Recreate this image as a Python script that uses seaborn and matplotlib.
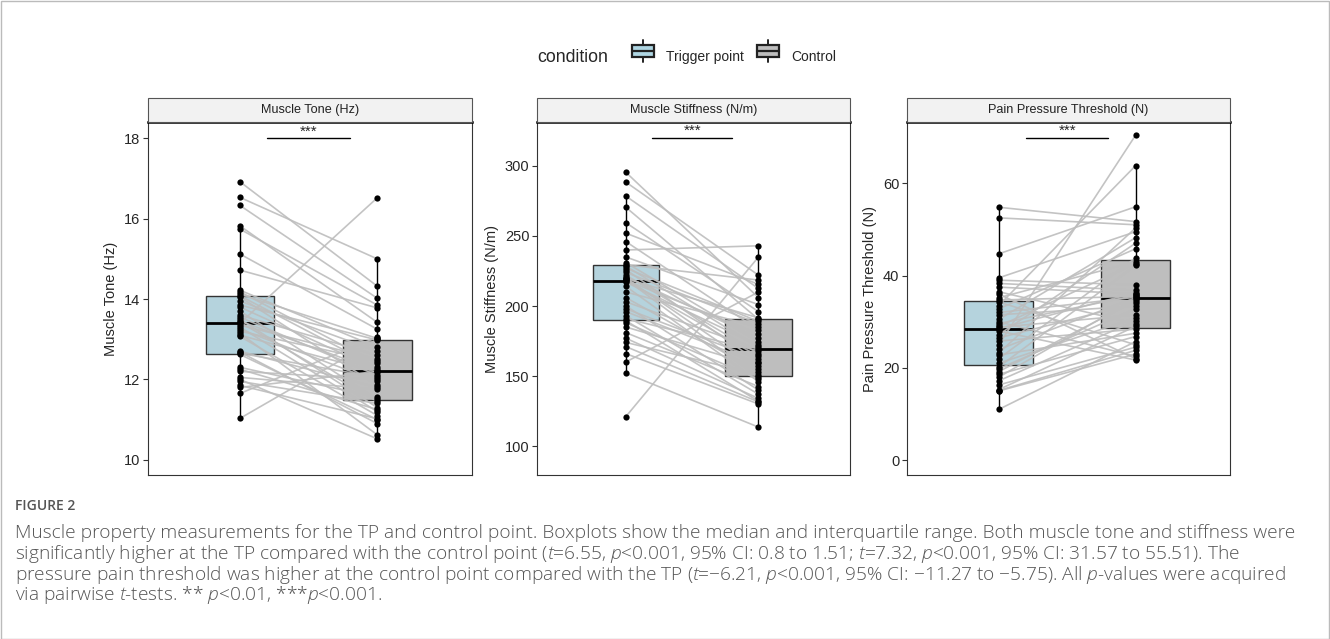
import matplotlib
matplotlib.use("Agg")
import matplotlib.pyplot as plt
import seaborn as sns
import pandas as pd
from matplotlib.patches import Rectangle, Patch
from matplotlib.lines import Line2D
from matplotlib.legend_handler import HandlerBase

# ---- data (paired: index i in *_tp matches index i in *_ctrl) ----
conditions = ["Trigger point", "Control"]

tone_tp = [16.92, 16.53, 16.33, 15.82, 15.74, 15.12, 14.72, 14.22, 14.18, 14.12, 14.08,
           14.05, 13.95, 13.85, 13.8, 13.7, 13.6, 13.55, 13.5, 13.45, 13.42, 13.4,
           13.35, 13.3, 13.25, 13.2, 13.15, 13.1, 13.07, 12.7, 12.68, 12.65, 12.62,
           12.3, 12.25, 12.2, 12.05, 12.0, 11.95, 11.85, 11.8, 11.65, 11.03]
tone_ctrl = [14.32, 15.0, 14.02, 13.42, 13.85, 13.25, 13.78, 12.8, 12.4, 13.02, 12.3,
             11.85, 12.7, 12.98, 12.25, 11.5, 12.6, 12.1, 11.3, 12.22, 11.45, 16.52,
             12.5, 11.2, 11.95, 12.45, 10.62, 12.18, 11.1, 11.8, 10.9, 12.05, 11.0,
             11.55, 11.25, 12.0, 11.75, 10.52, 11.4, 11.02, 12.2, 13.05, 13.0]

stiff_tp = [295.5, 288.5, 278.5, 270.5, 259.5, 252, 246, 240, 235, 231, 229.5,
            228.5, 227, 226, 224, 222, 221, 220, 219.5, 219, 218.5, 218,
            217, 214, 210, 206, 203, 200, 198, 196, 193, 191, 189.5,
            188, 185, 181, 177, 174, 171, 166, 160, 152, 121]
stiff_ctrl = [206, 222, 212.5, 190.5, 196, 215.5, 183, 243, 201, 174.5, 218.5,
              170.5, 189, 160, 187.5, 166, 177, 155, 191.5, 149, 180, 164,
              172, 146, 185, 153, 169, 140, 162, 159, 137, 168, 132,
              148, 157, 142.5, 134, 151, 131.5, 130, 210, 113.5, 235]

ppt_tp = [54.8, 52.5, 44.7, 39.5, 39.0, 38.3, 37.5, 36.5, 36.0, 35.2, 34.7,
          34.3, 33.5, 32.8, 32.0, 31.5, 30.5, 30.0, 29.6, 29.0, 28.8, 28.5,
          28.0, 27.2, 26.5, 25.8, 25.0, 24.0, 23.2, 22.8, 22.0, 21.0, 20.2,
          19.8, 19.2, 18.6, 18.0, 17.2, 16.3, 15.3, 15.1, 15.0, 11.0]
ppt_ctrl = [51.7, 51.0, 54.9, 49.5, 38.0, 36.8, 36.0, 29.6, 22.0, 43.0, 35.5,
            25.0, 63.8, 45.8, 35.3, 33.4, 48.2, 22.5, 35.7, 42.6, 31.5, 36.3,
            21.7, 47.0, 34.0, 28.4, 70.4, 35.2, 50.3, 27.5, 43.8, 30.8, 42.2,
            32.8, 34.5, 26.8, 35.0, 30.2, 24.5, 29.0, 23.8, 23.0, 25.7]

panel_titles = ["Muscle Tone (Hz)", "Muscle Stiffness (N/m)", "Pain Pressure Threshold (N)"]
y_ticks = [[10, 12, 14, 16, 18], [100, 150, 200, 250, 300], [0, 20, 40, 60]]
y_limits = [(9.62, 18.40), (79.3, 331.2), (-3.2, 73.2)]
sig_heights = [18.0, 319.8, 69.75]

palette = {"Trigger point": "#afd6e3", "Control": "#bebebe"}

caption_lines = [
    "Muscle property measurements for the TP and control point. Boxplots show the median and interquartile range. Both muscle tone and stiffness were",
    "significantly higher at the TP compared with the control point ($t$=6.55, $p$<0.001, 95% CI: 0.8 to 1.51; $t$=7.32, $p$<0.001, 95% CI: 31.57 to 55.51). The",
    "pressure pain threshold was higher at the control point compared with the TP ($t$=\u22126.21, $p$<0.001, 95% CI: \u221211.27 to \u22125.75). All $p$-values were acquired",
    "via pairwise $t$-tests. ** $p$<0.01, ***$p$<0.001.",
]


def long_table(tp, ctrl):
    n = len(tp)
    df = pd.DataFrame({
        "subject": list(range(n)) * 2,
        "condition": [conditions[0]] * n + [conditions[1]] * n,
        "value": tp + ctrl,
    })
    df["pos"] = df["condition"].map({c: i for i, c in enumerate(conditions)})
    return df


class BoxHandler(HandlerBase):
    # boxplot-like legend key (box + median + whisker stubs)
    def create_artists(self, legend, orig_handle, xdescent, ydescent,
                       width, height, fontsize, trans):
        box = Rectangle((0, 0.2 * height), width, 0.6 * height,
                        facecolor=orig_handle.get_facecolor(),
                        edgecolor="#222222", lw=1.6, transform=trans)
        med = Line2D([0, width], [0.5 * height, 0.5 * height], color="#222222",
                     lw=1.6, transform=trans)
        top = Line2D([width / 2, width / 2], [0.8 * height, 1.05 * height],
                     color="#222222", lw=1.4, transform=trans)
        bot = Line2D([width / 2, width / 2], [-0.05 * height, 0.2 * height],
                     color="#222222", lw=1.4, transform=trans)
        return [box, med, top, bot]


sns.set_style("white")
plt.rcParams["font.family"] = ["Liberation Sans", "DejaVu Sans"]
plt.rcParams["mathtext.fontset"] = "custom"
plt.rcParams["mathtext.rm"] = "Open Sans:light"
plt.rcParams["mathtext.it"] = "Open Sans:italic:light"

W, H = 1330, 639
fig = plt.figure(figsize=(W / 100, H / 100), dpi=100)

# panel frames in pixels (left, right)
panel_x = [(148, 472), (537, 850), (907, 1230)]
ax_top, ax_bottom, strip_px = 122.3, 475, 24

datasets = [(tone_tp, tone_ctrl), (stiff_tp, stiff_ctrl), (ppt_tp, ppt_ctrl)]

for i, (tp, ctrl) in enumerate(datasets):
    x0, x1 = panel_x[i]
    ax = fig.add_axes([x0 / W, 1 - ax_bottom / H, (x1 - x0) / W, (ax_bottom - ax_top) / H])
    df = long_table(tp, ctrl)

    sns.boxplot(data=df, x="condition", y="value", hue="condition", order=conditions,
                hue_order=conditions, palette=palette, width=0.5, showfliers=False,
                linewidth=1.0, linecolor="#333333", legend=False,
                medianprops=dict(color="black", linewidth=2),
                whiskerprops=dict(color="black", linewidth=1),
                capprops=dict(linewidth=0), ax=ax)
    sns.lineplot(data=df, x="pos", y="value", units="subject", estimator=None,
                 color="#bdbdbd", lw=1.2, alpha=0.9, ax=ax, zorder=3)
    sns.stripplot(data=df, x="condition", y="value", order=conditions, jitter=False,
                  color="black", size=4.5, ax=ax, zorder=4)

    ax.set_xlim(-0.67, 1.69)
    ax.set_ylim(*y_limits[i])
    ax.set_yticks(y_ticks[i])
    ax.set_xticks([])
    ax.set_xlabel("")
    ax.set_ylabel(panel_titles[i], fontsize=10.5, labelpad=4)
    ax.tick_params(axis="y", labelsize=10.5, length=3.5, width=0.8, color="#333333",
                   left=True, direction="out", pad=2)
    for side, sp in ax.spines.items():
        sp.set_color("#333333")
        sp.set_linewidth(0.8)
    ax.spines["top"].set_linewidth(1.8)
    ax.spines["top"].set_color("black")

    # significance bar
    h = sig_heights[i]
    ax.plot([0.2, 0.8], [h, h], color="black", lw=1)
    ax.text(0.5, h, "***", ha="center", va="bottom", fontsize=11)

    # facet strip
    sh = strip_px / (ax_bottom - ax_top)
    ax.add_patch(Rectangle((0, 1), 1, sh, transform=ax.transAxes, facecolor="#f2f2f2",
                           edgecolor="#555555", lw=0.8, clip_on=False, zorder=5))
    ax.text(0.5, 1 + sh / 2, panel_titles[i], transform=ax.transAxes, ha="center",
            va="center", fontsize=9.1, color="#222222", zorder=6)

# legend on top
fig.text(537 / W, 1 - 57 / H, "condition", fontsize=12.8, va="center", ha="left")
handles = [Patch(facecolor=palette[c]) for c in conditions]
fig.legend(handles=handles, labels=conditions, handler_map={Patch: BoxHandler()},
           loc="center", bbox_to_anchor=(734 / W, 1 - 57 / H), ncol=2, frameon=False,
           fontsize=10, handlelength=1.6, handleheight=1.9, columnspacing=0.9,
           handletextpad=0.9, borderpad=0)

# caption
fig.text(15 / W, 1 - 506 / H, "FIGURE 2", fontsize=10, color="#555555",
         family=["Open Sans", "DejaVu Sans"], fontweight="semibold", va="center")
for k, line in enumerate(caption_lines):
    fig.text(15 / W, 1 - (533 + 20.8 * k) / H, line, fontsize=13.8, color="#555555",
             family=["Open Sans", "DejaVu Sans"], fontweight="light", va="center")

# outer frame
fig.add_artist(Rectangle((0.5 / W, 0.5 / H), 1 - 1.5 / W, 1 - 1.5 / H,
                         transform=fig.transFigure, fill=False, ec="#bbbbbb", lw=1))

fig.savefig("out.png", dpi=100)
